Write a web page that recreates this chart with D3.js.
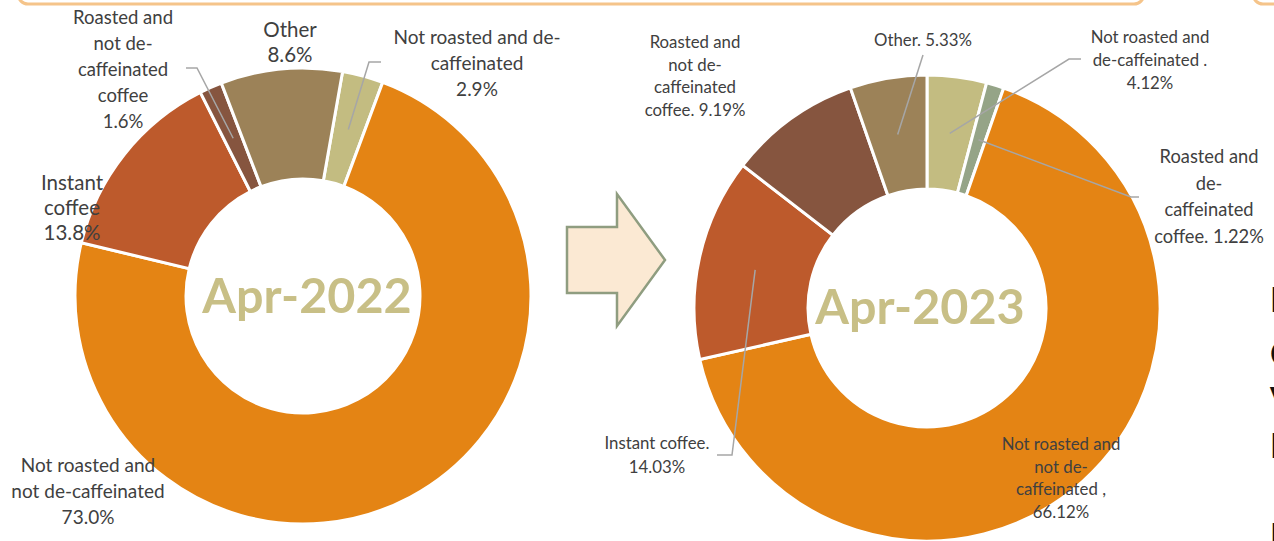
<!DOCTYPE html>
<html><head><meta charset="utf-8">
<script src="https://cdn.jsdelivr.net/npm/d3@7"></script>
<style>
html,body{margin:0;padding:0;background:#fff;overflow:hidden;}
svg{display:block;}
</style></head>
<body>
<svg id="chart" width="1274" height="541"></svg>
<script>
// ---------- data ----------
const categories2022 = ["Not roasted and de-caffeinated", "Not roasted and not de-caffeinated", "Instant coffee", "Roasted and not de-caffeinated coffee", "Other"];
const values2022 = [2.9, 73.0, 13.8, 1.6, 8.6];
const labels2022 = [
  ["Not roasted and de-", "caffeinated", "2.9%"],
  ["Not roasted and", "not de-caffeinated", "73.0%"],
  ["Instant", "coffee", "13.8%"],
  ["Roasted and", "not de-", "caffeinated", "coffee", "1.6%"],
  ["Other", "8.6%"]
];
const categories2023 = ["Not roasted and de-caffeinated", "Roasted and de-caffeinated coffee", "Not roasted and not de-caffeinated", "Instant coffee", "Roasted and not de-caffeinated coffee", "Other"];
const values2023 = [4.12, 1.22, 66.12, 14.03, 9.19, 5.33];
const labels2023 = [
  ["Not roasted and", "de-caffeinated .", "4.12%"],
  ["Roasted and", "de-", "caffeinated", "coffee. 1.22%"],
  ["Not roasted and", "not de-", "caffeinated ,", "66.12%"],
  ["Instant coffee.", "14.03%"],
  ["Roasted and", "not de-", "caffeinated", "coffee. 9.19%"],
  ["Other. 5.33%"]
];
const titles = ["Apr-2022", "Apr-2023"];

// ---------- style / layout ----------
const colorMap = {
  "Not roasted and de-caffeinated": "#C3BC81",
  "Roasted and de-caffeinated coffee": "#95A487",
  "Not roasted and not de-caffeinated": "#E48414",
  "Instant coffee": "#BD5A2C",
  "Roasted and not de-caffeinated coffee": "#86553F",
  "Other": "#9C8258"
};
const FONT = "Lato, 'Open Sans', sans-serif";
const charts = [
  { cats: categories2022, vals: values2022, labels: labels2022, title: titles[0],
    cx: 303, cy: 296, ro: 228, ri: 117, start: 10,
    titlePos: [307, 313],
    layout: [
      {x: 477, y: 44, fs: 19, lh: 26, leader: [[381, 62], [369, 62]]},
      {x: 88, y: 472, fs: 19, lh: 26},
      {x: 72, y: 190, fs: 20.5, lh: 25},
      {x: 123, y: 24, fs: 18.5, lh: 26, leader: [[186, 68], [197, 68]]},
      {x: 290, y: 37, fs: 20.5, lh: 25}
    ]},
  { cats: categories2023, vals: values2023, labels: labels2023, title: titles[1],
    cx: 927, cy: 308, ro: 233, ri: 119, start: 0,
    titlePos: [920, 324],
    layout: [
      {x: 1150, y: 43, fs: 16.8, lh: 23, leader: [[1081, 59], [1069, 59]]},
      {x: 1209, y: 163, fs: 18.3, lh: 26.5, leader: [[1139, 197], [1131, 197]]},
      {x: 1061, y: 450, fs: 16.8, lh: 22.5},
      {x: 657, y: 449, fs: 16.8, lh: 24, leader: [[717, 455], [732, 455]]},
      {x: 695, y: 48, fs: 16.8, lh: 22.5},
      {x: 923, y: 46, fs: 16.8, lh: 23, leader: [[923, 55]]}
    ]}
];

const svg = d3.select("#chart");

// top frame remnants
svg.append("rect").attr("x", 18).attr("y", -40).attr("width", 1126).attr("height", 44)
  .attr("rx", 10).attr("fill", "none").attr("stroke", "#F5C48A").attr("stroke-width", 3);
svg.append("rect").attr("x", 1253).attr("y", -40).attr("width", 100).attr("height", 44)
  .attr("rx", 10).attr("fill", "none").attr("stroke", "#F5C48A").attr("stroke-width", 3);

// arrow
const arrowPts = [[567, 227], [617, 227], [617, 194], [665, 260], [617, 326], [617, 293], [567, 293]];
svg.append("path").attr("d", d3.line()(arrowPts) + "Z")
  .attr("fill", "#FBE9D3").attr("stroke", "#8F9D80").attr("stroke-width", 2.5);

charts.forEach(c => {
  const g = svg.append("g").attr("transform", `translate(${c.cx},${c.cy})`);
  const s = c.start * Math.PI / 180;
  const pie = d3.pie().sort(null).value(d => d).startAngle(s).endAngle(s + 2 * Math.PI);
  const arcs = pie(c.vals);
  const arc = d3.arc().innerRadius(c.ri).outerRadius(c.ro);
  g.selectAll("path.slice").data(arcs).join("path")
    .attr("class", "slice")
    .attr("d", arc)
    .attr("fill", (d, i) => colorMap[c.cats[i]])
    .attr("stroke", "#fff").attr("stroke-width", 3).attr("stroke-linejoin", "miter");

  g.append("text").text(c.title)
    .attr("x", c.titlePos[0] - c.cx).attr("y", c.titlePos[1] - c.cy)
    .attr("text-anchor", "middle").attr("font-family", FONT).attr("font-weight", 700)
    .attr("font-size", 48.5).attr("fill", "#C8BF86");

  // leaders
  arcs.forEach((d, i) => {
    const L = c.layout[i];
    if (!L.leader) return;
    const cen = arc.centroid(d);
    const pts = L.leader.map(p => [p[0] - c.cx, p[1] - c.cy]).concat([cen]);
    g.append("path").attr("d", d3.line()(pts)).attr("fill", "none")
      .attr("stroke", "#A6A6A6").attr("stroke-width", 1.5);
  });

  // labels
  c.labels.forEach((lines, i) => {
    const L = c.layout[i];
    const t = svg.append("text").attr("font-family", FONT).attr("font-size", L.fs)
      .attr("fill", "#404040").attr("text-anchor", "middle");
    lines.forEach((ln, k) => {
      t.append("tspan").attr("x", L.x).attr("y", L.y + k * L.lh).text(ln);
    });
  });
});

// cut-off text at right edge (also cut off in the source image)
const edgeText = ["I", "C", "V", "I", "I"];
const edgeY = [312, 366, 412, 458, 548];
svg.selectAll("text.edge").data(edgeText).join("text").attr("class", "edge")
  .attr("x", 1270).attr("y", (d, i) => edgeY[i]).text(d => d)
  .attr("font-family", FONT).attr("font-weight", 700).attr("font-size", 34).attr("fill", "#111");
</script>
</body></html>
